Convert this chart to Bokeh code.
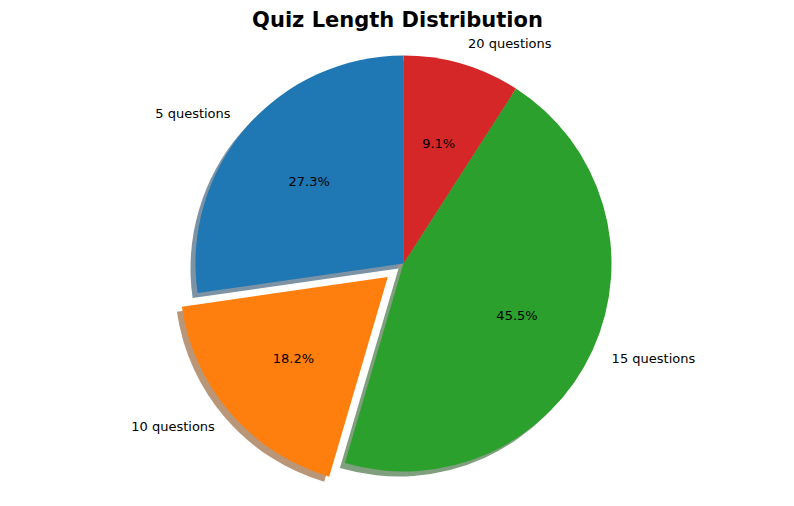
import math
from bokeh.plotting import figure
from bokeh.models import ColumnDataSource
from bokeh.core.properties import value
from bokeh.embed import file_html
from bokeh.resources import INLINE

labels = ['5 questions', '10 questions', '15 questions', '20 questions']
counts = [3, 2, 5, 1]
colors = ['#1f77b4', '#ff7f0e', '#2ca02c', '#d62728']
shadow_colors = ['#0f3b5a', '#7f4007', '#165016', '#6b1414']
explode = [0, 0.1, 0, 0]

W, H = 778, 490
cx, cy, R = 403, 263, 208  # pixel centre and radius of the pie

p = figure(width=W, height=H, output_backend="svg", toolbar_location=None,
           x_range=(-cx / R, (W - cx) / R), y_range=(-(H - cy) / R, cy / R),
           min_border=0, outline_line_color=None)
p.axis.visible = False
p.grid.visible = False

total = sum(counts)
x0, y0, a0, a1, mids, pct = [], [], [], [], [], []
ang = math.pi / 2
for c, e in zip(counts, explode):
    span = 2 * math.pi * c / total
    mid = ang + span / 2
    a0.append(ang)
    a1.append(ang + span)
    mids.append(mid)
    x0.append(e * math.cos(mid))
    y0.append(e * math.sin(mid))
    pct.append(f"{100 * c / total:.1f}%")
    ang += span

src = ColumnDataSource(dict(x=x0, y=y0, a0=a0, a1=a1, color=colors, shadow=shadow_colors,
                            sx=[x - 0.024 for x in x0], sy=[y - 0.024 for y in y0]))
p.wedge(x='sx', y='sy', radius=1, start_angle='a0', end_angle='a1',
        fill_color='shadow', fill_alpha=0.55, line_color=None, source=src)
p.wedge(x='x', y='y', radius=1, start_angle='a0', end_angle='a1',
        fill_color='color', line_color=None, source=src)

lx = [x + 1.1 * math.cos(m) for x, m in zip(x0, mids)]
ly = [y + 1.1 * math.sin(m) for y, m in zip(y0, mids)]
align = ['right' if math.cos(m) < 0 else 'left' for m in mids]
p.text(x=lx, y=ly, text=labels, text_align=align, text_baseline='middle',
       text_font=value("DejaVu Sans"), text_font_size='13px', text_color='black')

px = [x + 0.6 * math.cos(m) for x, m in zip(x0, mids)]
py = [y + 0.6 * math.sin(m) for y, m in zip(y0, mids)]
p.text(x=px, y=py, text=pct, text_align='center', text_baseline='middle',
       text_font=value("DejaVu Sans"), text_font_size='13px', text_color='black')

p.text(x=[(397 - cx) / R], y=[(cy - 19) / R], text=['Quiz Length Distribution'],
       text_align='center', text_baseline='middle', text_font=value("DejaVu Sans"),
       text_font_size='21px', text_font_style='bold', text_color='black')

open("out.html", "w").write(file_html(p, INLINE))
